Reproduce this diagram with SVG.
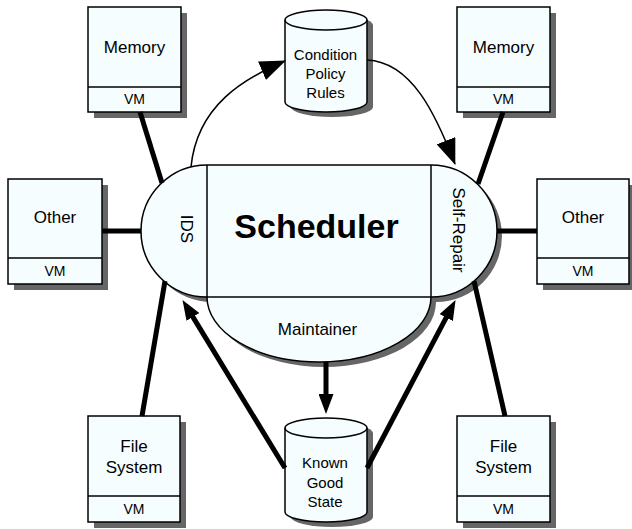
<svg xmlns="http://www.w3.org/2000/svg" width="632" height="529" viewBox="0 0 632 529">
<style>
text{font-family:"Liberation Sans",Arial,sans-serif;fill:#000;text-anchor:middle}
.shadow{fill:#666}
.body{fill:#f5fdff;stroke:#000;stroke-width:1.5}
.ln{fill:none;stroke:#000;stroke-width:1.5}
.lbl{font-size:17px}
.vm{font-size:14px}
.cyl{font-size:15px}
.thick{stroke:#000;stroke-width:5;fill:none}
.thin{stroke:#000;stroke-width:1.5;fill:none}
</style>
<defs>
<marker id="headThin" markerUnits="userSpaceOnUse" markerWidth="26" markerHeight="20" viewBox="0 0 26 20" refX="25" refY="10" orient="auto"><path d="M0,0 L26,10 L0,20 Z" fill="#000"/></marker>
<marker id="headThick" markerUnits="userSpaceOnUse" markerWidth="20" markerHeight="15" viewBox="0 0 20 15" refX="1" refY="7.5" orient="auto"><path d="M0,0 L20,7.5 L0,15 Z" fill="#000"/></marker>
</defs>
<rect width="632" height="529" fill="#fff"/>

<g id="memory-left">
<rect class="shadow" x="94" y="13" width="93" height="105"/>
<rect class="body" x="88" y="7" width="93" height="105"/>
<line class="ln" x1="88" y1="87" x2="181" y2="87"/>
<text class="lbl" x="134.5" y="53">Memory</text>
<text class="vm" x="134.5" y="104">VM</text>
</g>
<g id="other-left">
<rect class="shadow" x="14" y="185" width="94" height="105"/>
<rect class="body" x="8" y="179" width="94" height="105"/>
<line class="ln" x1="8" y1="258" x2="102" y2="258"/>
<text class="lbl" x="55" y="223">Other</text>
<text class="vm" x="55" y="276">VM</text>
</g>
<g id="filesystem-left">
<rect class="shadow" x="94" y="422" width="92" height="106"/>
<rect class="body" x="88" y="416" width="92" height="106"/>
<line class="ln" x1="88" y1="496" x2="180" y2="496"/>
<text class="lbl" x="134" y="452">File</text>
<text class="lbl" x="134" y="473">System</text>
<text class="vm" x="134" y="514">VM</text>
</g>
<g id="memory-right">
<rect class="shadow" x="463" y="13" width="93" height="105"/>
<rect class="body" x="457" y="7" width="93" height="105"/>
<line class="ln" x1="457" y1="87" x2="550" y2="87"/>
<text class="lbl" x="503.5" y="53">Memory</text>
<text class="vm" x="503.5" y="104">VM</text>
</g>
<g id="other-right">
<rect class="shadow" x="543" y="185" width="92" height="105"/>
<rect class="body" x="537" y="179" width="92" height="105"/>
<line class="ln" x1="537" y1="258" x2="629" y2="258"/>
<text class="lbl" x="583" y="223">Other</text>
<text class="vm" x="583" y="276">VM</text>
</g>
<g id="filesystem-right">
<rect class="shadow" x="463" y="422" width="93" height="106"/>
<rect class="body" x="457" y="416" width="93" height="106"/>
<line class="ln" x1="457" y1="496" x2="550" y2="496"/>
<text class="lbl" x="503.5" y="452">File</text>
<text class="lbl" x="503.5" y="473">System</text>
<text class="vm" x="503.5" y="514">VM</text>
</g>

<g id="condition-policy-rules">
<path class="shadow" d="M291,25 A41,10 0 0 1 373,25 V107 A41,10 0 0 1 291,107 Z"/>
<path class="body" d="M285,20 A41,10 0 0 1 367,20 V102 A41,10 0 0 1 285,102 Z"/>
<path class="ln" d="M285,20 A41,10 0 0 0 367,20"/>
<text class="cyl" x="325.5" y="60">Condition</text>
<text class="cyl" x="325.5" y="79">Policy</text>
<text class="cyl" x="325.5" y="98">Rules</text>
</g>
<g id="known-good-state">
<path class="shadow" d="M291,433 A41,10 0 0 1 373,433 V517 A41,10 0 0 1 291,517 Z"/>
<path class="body" d="M285,428 A41,10 0 0 1 367,428 V512 A41,10 0 0 1 285,512 Z"/>
<path class="ln" d="M285,428 A41,10 0 0 0 367,428"/>
<text class="cyl" x="325" y="468">Known</text>
<text class="cyl" x="325" y="488">Good</text>
<text class="cyl" x="325" y="507">State</text>
</g>

<g id="scheduler">
<path class="shadow" d="M212,170 H436 A66,66 0 0 1 436,302 A112,65 0 0 1 212,302 A66,66 0 0 1 212,170 Z"/>
<path class="body" d="M207,165 H431 A66,66 0 0 1 431,297 A112,65 0 0 1 207,297 A66,66 0 0 1 207,165 Z"/>
<line class="ln" x1="207" y1="165" x2="207" y2="297"/>
<line class="ln" x1="431" y1="165" x2="431" y2="297"/>
<line class="ln" x1="207" y1="297" x2="431" y2="297"/>
<text x="316.5" y="238" font-size="34" font-weight="bold">Scheduler</text>
<text class="lbl" transform="translate(181,229) rotate(90)">IDS</text>
<text class="lbl" transform="translate(453,230) rotate(90)">Self-Repair</text>
<text class="lbl" x="317.5" y="335">Maintainer</text>
</g>

<g id="connectors">
<line class="thick" x1="140" y1="112" x2="162" y2="183"/>
<line class="thick" x1="102" y1="231" x2="141" y2="231"/>
<line class="thick" x1="142" y1="416" x2="165" y2="281"/>
<line class="thick" x1="503" y1="112" x2="478" y2="184"/>
<line class="thick" x1="497" y1="231" x2="537" y2="231"/>
<line class="thick" x1="505" y1="416" x2="474" y2="281"/>
<line class="thick" x1="326" y1="362" x2="326" y2="395" marker-end="url(#headThick)"/>
<line class="thick" x1="285" y1="468" x2="192.4" y2="316.1" marker-end="url(#headThick)"/>
<line class="thick" x1="367" y1="468" x2="446.7" y2="316.7" marker-end="url(#headThick)"/>
<path class="thin" d="M191,167 C197,105 245,78 285,61" marker-end="url(#headThin)"/>
<path class="thin" d="M367,60 C412,62 436,115 455,164" marker-end="url(#headThin)"/>
</g>
</svg>
